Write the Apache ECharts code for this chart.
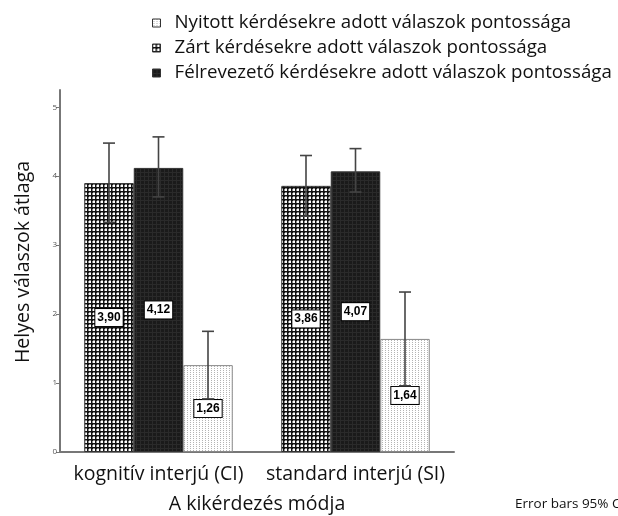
<!DOCTYPE html>
<html>
<head>
<meta charset="utf-8">
<script src="https://cdn.jsdelivr.net/npm/echarts@6/dist/echarts.min.js"></script>
<style>
html,body{margin:0;padding:0;background:#fff;}
#chart{width:618px;height:516px;}
</style>
</head>
<body>
<div id="chart"></div>
<script>
// ---- data ----
var categories = ['kognitív interjú (CI)', 'standard interjú (SI)'];
var seriesNames = [
  'Zárt kérdésekre adott válaszok pontossága',
  'Félrevezető kérdésekre adott válaszok pontossága',
  'Nyitott kérdésekre adott válaszok pontossága'
];
var legendOrder = [
  'Nyitott kérdésekre adott válaszok pontossága',
  'Zárt kérdésekre adott válaszok pontossága',
  'Félrevezető kérdésekre adott válaszok pontossága'
];
var zartMeans = [3.90, 3.86];
var felrevMeans = [4.12, 4.07];
var nyitottMeans = [1.26, 1.64];
var zartLow = [3.33, 3.42];
var zartHigh = [4.48, 4.30];
var felrevLow = [3.70, 3.77];
var felrevHigh = [4.57, 4.40];
var nyitottLow = [0.77, 0.96];
var nyitottHigh = [1.75, 2.32];
var yTicks = [0, 1, 2, 3, 4, 5];

// ---- patterns ----
function makePattern(w, h, bg, layers) {
  var c = document.createElement('canvas');
  c.width = w; c.height = h;
  var ctx = c.getContext('2d');
  ctx.fillStyle = bg; ctx.fillRect(0, 0, w, h);
  layers.forEach(function (L) {
    ctx.fillStyle = L[0];
    L[1].forEach(function (r) { ctx.fillRect(r[0], r[1], r[2], r[3]); });
  });
  return c;
}
var checkPat = makePattern(4, 4, '#111', [
  ['#8a8a8a', [[1, 0, 2, 1], [0, 1, 1, 2]]],
  ['#ffffff', [[1, 1, 2, 2]]]
]);
var blackPat = makePattern(4, 4, '#1a1a1a', [['#2a2a2a', [[0, 0, 1, 4], [0, 0, 4, 1]]]]);
var dotPat = makePattern(3, 2, '#ffffff', [['#b4b4b4', [[1, 0, 1, 1]]]]);
var patterns = [checkPat, blackPat, dotPat];
var meansList = [zartMeans, felrevMeans, nyitottMeans];
var lowList = [zartLow, felrevLow, nyitottLow];
var highList = [zartHigh, felrevHigh, nyitottHigh];

var BAR_W = 49.5;
var series = [];
meansList.forEach(function (m, i) {
  series.push({
    name: seriesNames[i],
    type: 'bar',
    barWidth: BAR_W,
    barGap: '0%',
    data: m,
    itemStyle: {
      color: { image: patterns[i], repeat: 'repeat' },
      borderColor: i === 2 ? '#888' : '#333',
      borderWidth: 1
    },
    label: {
      show: true,
      position: 'inside',
      formatter: function (p) { return p.value.toFixed(2).replace('.', ','); },
      fontFamily: 'Liberation Sans',
      fontWeight: 'bold',
      fontSize: 12,
      color: '#000',
      backgroundColor: '#fff',
      borderColor: '#000',
      borderWidth: 1,
      padding: [3, 2, 2, 2]
    },
    z: 2
  });
});
meansList.forEach(function (m, i) {
  var off = (i - 1) * BAR_W;
  series.push({
    type: 'custom',
    name: 'err' + i,
    data: categories.map(function (c, k) { return [k, lowList[i][k], highList[i][k]]; }),
    encode: { x: 0, y: [1, 2] },
    z: 5,
    silent: true,
    renderItem: function (params, api) {
      var idx = api.value(0);
      var lo = api.coord([idx, api.value(1)]);
      var hi = api.coord([idx, api.value(2)]);
      var x = lo[0] + off;
      var cap = 6;
      var st = { stroke: '#444', lineWidth: 1.6 };
      return {
        type: 'group',
        children: [
          { type: 'line', shape: { x1: x, y1: lo[1], x2: x, y2: hi[1] }, style: st },
          { type: 'line', shape: { x1: x - cap, y1: hi[1], x2: x + cap, y2: hi[1] }, style: st },
          { type: 'line', shape: { x1: x - cap, y1: lo[1], x2: x + cap, y2: lo[1] }, style: st }
        ]
      };
    }
  });
});

var chart = echarts.init(document.getElementById('chart'), null, { renderer: 'canvas' });
chart.setOption({
  animation: false,
  backgroundColor: '#fff',
  textStyle: { fontFamily: 'Open Sans' },
  legend: {
    data: legendOrder,
    orient: 'vertical',
    left: 147,
    top: 8,
    itemWidth: 8,
    itemHeight: 8,
    itemGap: 5,
    icon: 'rect',
    itemStyle: { borderColor: '#333', borderWidth: 1 },
    textStyle: { fontFamily: 'Open Sans', fontSize: 18.7, color: '#111', lineHeight: 20, padding: [0, 0, 0, 9] },
    selectedMode: false
  },
  grid: { left: 60, right: 164, top: 90, bottom: 64, containLabel: false, outerBoundsMode: 'none' },
  xAxis: {
    type: 'category',
    data: categories,
    name: 'A kikérdezés módja',
    nameLocation: 'middle',
    nameGap: 42,
    nameTextStyle: { fontFamily: 'Open Sans', fontSize: 19.5, color: '#111' },
    axisLine: { lineStyle: { color: '#777', width: 2 } },
    axisTick: { alignWithLabel: true, length: 5, lineStyle: { color: '#777', width: 1.5 } },
    axisLabel: { interval: 0, fontFamily: 'Open Sans', fontSize: 19.5, color: '#111', margin: 12 }
  },
  yAxis: {
    type: 'value',
    min: 0,
    max: 5.25,
    name: 'Helyes válaszok átlaga',
    nameLocation: 'middle',
    nameGap: 27,
    nameRotate: 90,
    nameTextStyle: { fontFamily: 'Open Sans', fontSize: 19.5, color: '#111', padding: [0, 0, 0, 18] },
    splitLine: { show: false },
    axisLine: { show: true, lineStyle: { color: '#777', width: 2 } },
    axisTick: { show: true, length: 4, customValues: yTicks, lineStyle: { color: '#777', width: 1 } },
    axisLabel: { fontSize: 8, color: '#555', margin: 3, customValues: yTicks }
  },
  graphic: [{
    type: 'text',
    left: 515,
    top: 497,
    style: { text: 'Error bars 95% CI', fontFamily: 'Open Sans', fontSize: 13.5, fill: '#111' }
  }],
  series: series
});
</script>
</body>
</html>
